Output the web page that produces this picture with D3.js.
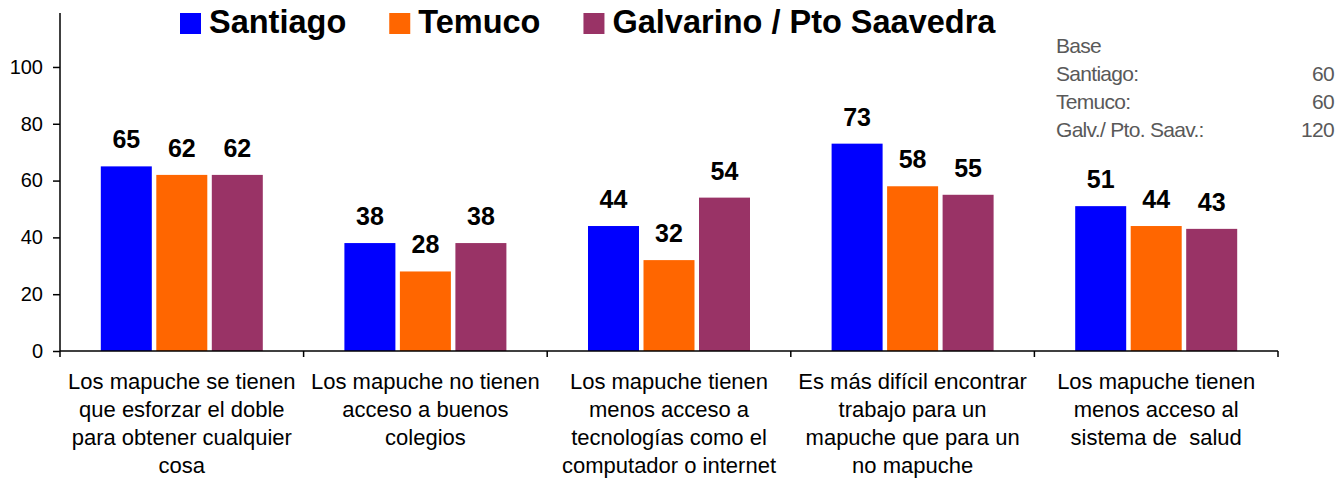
<!DOCTYPE html>
<html>
<head>
<meta charset="utf-8">
<script src="https://cdn.jsdelivr.net/npm/d3@7"></script>
<style>
  html, body { margin: 0; padding: 0; background: #fff; }
  svg { display: block; font-family: "Liberation Sans", Arial, sans-serif; }
  text { white-space: pre; }
</style>
</head>
<body>
<svg id="chart" width="1335" height="478"></svg>
<script>
// Categories (multi-line labels)
const categories = [
  ["Los mapuche se tienen", "que esforzar el doble", "para obtener cualquier", "cosa"],
  ["Los mapuche no tienen", "acceso a buenos", "colegios"],
  ["Los mapuche tienen", "menos acceso a", "tecnologías como el", "computador o internet"],
  ["Es más difícil encontrar", "trabajo para un", "mapuche que para un", "no mapuche"],
  ["Los mapuche tienen", "menos acceso al", "sistema de  salud"]
];
const seriesNames = ["Santiago", "Temuco", "Galvarino / Pto Saavedra"];
const santiago = [65, 38, 44, 73, 51];
const temuco   = [62, 28, 32, 58, 44];
const galvarino = [62, 38, 54, 55, 43];
const yTicks = [0, 20, 40, 60, 80, 100];
const baseLabels = ["Santiago:", "Temuco:", "Galv./ Pto. Saav.:"];
const baseValues = [60, 60, 120];

const colors = ["#0000FF", "#FF6600", "#993366"];
const series = [santiago, temuco, galvarino];

const svg = d3.select("#chart");
const plotLeft = 60, plotRight = 1278, plotBottom = 351, plotTop = 13;

const x = d3.scaleBand().domain(d3.range(categories.length)).range([plotLeft, plotRight]).padding(0);
const y = d3.scaleLinear().domain([0, 119]).range([plotBottom, plotTop]);

const barW = 51, barGap = 4.5;
const groupW = 3 * barW + 2 * barGap;

// Bars and value labels
series.forEach((vals, s) => {
  const g = svg.append("g");
  g.selectAll("rect").data(vals).join("rect")
    .attr("x", (d, i) => x(i) + x.bandwidth() / 2 - groupW / 2 + s * (barW + barGap))
    .attr("y", d => y(d))
    .attr("width", barW)
    .attr("height", d => y(0) - y(d))
    .attr("fill", colors[s]);
  g.selectAll("text").data(vals).join("text")
    .attr("x", (d, i) => x(i) + x.bandwidth() / 2 - groupW / 2 + s * (barW + barGap) + barW / 2)
    .attr("y", d => y(d) - 18)
    .attr("text-anchor", "middle")
    .attr("font-size", 25)
    .attr("font-weight", "bold")
    .attr("fill", "#000")
    .text(d => d);
});

// Y axis
const yAxis = d3.axisLeft(y).tickValues(yTicks).tickSize(7).tickPadding(10);
const yg = svg.append("g").attr("transform", `translate(${plotLeft},0)`).call(yAxis);
yg.select(".domain").remove();
yg.selectAll(".tick line").attr("stroke", "#000").attr("stroke-width", 1.5);
yg.selectAll(".tick text").attr("font-size", 20).attr("fill", "#000")
  .attr("font-family", "Liberation Sans, Arial, sans-serif");
svg.append("line").attr("x1", plotLeft).attr("x2", plotLeft).attr("y1", plotTop).attr("y2", plotBottom)
  .attr("stroke", "#000").attr("stroke-width", 1.5);

// X axis with boundary ticks
svg.append("line").attr("x1", plotLeft).attr("x2", plotRight).attr("y1", plotBottom).attr("y2", plotBottom)
  .attr("stroke", "#000").attr("stroke-width", 1.5);
const bounds = d3.range(categories.length + 1).map(i => i < categories.length ? x(i) : plotRight);
svg.append("g").selectAll("line").data(bounds).join("line")
  .attr("x1", d => d).attr("x2", d => d)
  .attr("y1", plotBottom).attr("y2", plotBottom + 6)
  .attr("stroke", "#000").attr("stroke-width", 1.5);

// Category labels
const cl = svg.append("g").selectAll("text").data(categories).join("text")
  .attr("text-anchor", "middle")
  .attr("font-size", 22)
  .attr("fill", "#000")
  .attr("transform", (d, i) => `translate(${x(i) + x.bandwidth() / 2},389)`);
cl.selectAll("tspan").data(d => d).join("tspan")
  .attr("x", 0)
  .attr("y", (d, j) => j * 28)
  .text(d => d);

// Legend
const lg = svg.append("g");
let lx = 180;
seriesNames.forEach((name, i) => {
  lg.append("rect").attr("x", lx).attr("y", 13).attr("width", 21).attr("height", 21).attr("fill", colors[i]);
  const t = lg.append("text").attr("x", lx + 29).attr("y", 33)
    .attr("font-size", 32.5).attr("font-weight", "bold").attr("fill", "#000").text(name);
  lx += 29 + t.node().getComputedTextLength() + 43;
});

// Base note (sample sizes)
const bg = svg.append("g").attr("fill", "#595959").attr("font-size", 21);
bg.append("text").attr("x", 1056).attr("y", 53).attr("letter-spacing", -0.7).text("Base");
baseLabels.forEach((lab, i) => {
  bg.append("text").attr("x", 1056).attr("y", 81 + i * 28).attr("letter-spacing", -0.7).text(lab);
  bg.append("text").attr("x", 1334).attr("y", 81 + i * 28).attr("text-anchor", "end")
    .attr("letter-spacing", -0.7).text(baseValues[i]);
});
</script>
</body>
</html>
